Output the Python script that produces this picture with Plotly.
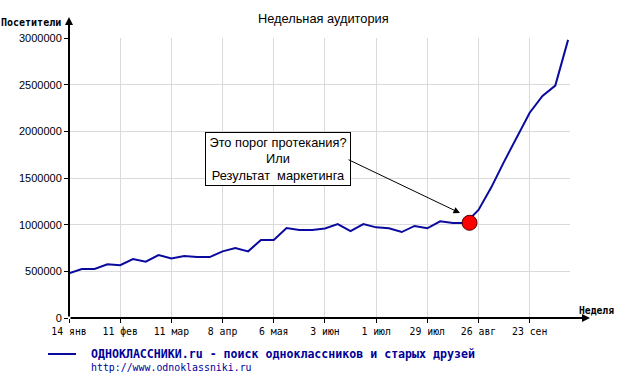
import plotly.graph_objects as go

# ---- data ----
weeks = list(range(40))
visitors = [480000, 525000, 525000, 575000, 565000, 632000, 603000, 675000, 639000, 664000,
            653000, 653000, 714000, 750000, 714000, 836000, 836000, 964000, 943000, 943000,
            960000, 1007000, 932000, 1007000, 971000, 961000, 921000, 986000, 961000, 1036000,
            1018000, 1018000, 1157000, 1400000, 1675000, 1940000, 2200000, 2380000, 2490000, 2980000]
tick_weeks = [0, 4, 8, 12, 16, 20, 24, 28, 32, 36]
tick_labels = ["14 янв", "11 фев", "11 мар", "8 апр", "6 мая", "3 июн", "1 июл", "29 июл", "26 авг", "23 сен"]
y_ticks = [0, 500000, 1000000, 1500000, 2000000, 2500000, 3000000]
highlight_week = [31.3]
highlight_value = [1020000]

title = "Недельная аудитория"
series_name = "ОДНОКЛАССНИКИ.ru - поиск одноклассников и старых друзей"
series_url = "http://www.odnoklassniki.ru"
note = "Это порог протекания?<br>Или<br>Результат\u00a0\u00a0маркетинга"

# ---- layout geometry (pixels) ----
L, R, T, B = 69, 570, 38, 318
W, H = 624, 381
def px(x):
    return (x - L) / (R - L)
def py(y):
    return (B - y) / (B - T)

line_color = "#0a0a9e"
text_blue = "#000099"

fig = go.Figure()
fig.add_trace(go.Scatter(x=weeks, y=visitors, mode="lines",
                         line=dict(color=line_color, width=2), showlegend=False,
                         hoverinfo="skip"))
fig.add_trace(go.Scatter(x=highlight_week, y=highlight_value, mode="markers",
                         marker=dict(size=15, color="#ff0000", line=dict(color="#500000", width=1)),
                         showlegend=False, hoverinfo="skip"))

annotations = []
# title
annotations.append(dict(text=title, xref="paper", yref="paper", x=px(323.5), y=py(18),
                        showarrow=False, xanchor="center", yanchor="middle",
                        font=dict(family="Liberation Sans", size=12.8, color="#000")))
# axis titles
annotations.append(dict(text="<b>Посетители</b>", xref="paper", yref="paper", x=px(63), y=py(23),
                        showarrow=False, xanchor="right", yanchor="middle",
                        font=dict(family="DejaVu Sans Mono", size=10, color="#000")))
annotations.append(dict(text="<b>Неделя</b>", xref="paper", yref="paper", x=px(616), y=py(310),
                        showarrow=False, xanchor="right", yanchor="middle",
                        font=dict(family="DejaVu Sans Mono", size=9.7, color="#000")))
# axis arrows
annotations.append(dict(text="", xref="paper", yref="paper", x=px(69), y=py(17),
                        ax=0, ay=301, axref="pixel", ayref="pixel", showarrow=True,
                        arrowhead=2, arrowsize=0.8, arrowwidth=2, arrowcolor="#000"))
annotations.append(dict(text="", xref="paper", yref="paper", x=px(590), y=py(318),
                        ax=-521, ay=0, axref="pixel", ayref="pixel", showarrow=True,
                        arrowhead=2, arrowsize=0.8, arrowwidth=2, arrowcolor="#000"))
# note box
annotations.append(dict(text=note, xref="paper", yref="paper", x=px(277.5), y=py(159),
                        showarrow=False, xanchor="center", yanchor="middle",
                        width=140, height=48, align="center", valign="middle",
                        bgcolor="#ffffff", bordercolor="#000", borderwidth=1, borderpad=2,
                        font=dict(family="Liberation Sans", size=12.8, color="#000")))
# note arrow
annotations.append(dict(text="", xref="paper", yref="paper", x=px(460), y=py(213),
                        ax=347 - 460, ay=159 - 213, axref="pixel", ayref="pixel", showarrow=True,
                        arrowhead=2, arrowsize=1.3, arrowwidth=1, arrowcolor="#000"))
# legend texts
annotations.append(dict(text="<b>" + series_name + "</b>", xref="paper", yref="paper",
                        x=px(89), y=py(354), showarrow=False, xanchor="left", yanchor="middle",
                        font=dict(family="DejaVu Sans Mono", size=11.6, color=text_blue)))
annotations.append(dict(text=series_url, xref="paper", yref="paper",
                        x=px(89), y=py(367), showarrow=False, xanchor="left", yanchor="middle",
                        font=dict(family="DejaVu Sans Mono", size=9.9, color=text_blue)))

shapes = [dict(type="line", xref="paper", yref="paper", x0=px(48), x1=px(76), y0=py(354), y1=py(354),
               line=dict(color=line_color, width=2))]

fig.update_layout(
    width=W, height=H,
    margin=dict(l=L, r=W - R, t=T, b=H - B, pad=0),
    paper_bgcolor="#ffffff", plot_bgcolor="#ffffff",
    showlegend=False,
    annotations=annotations, shapes=shapes,
    xaxis=dict(range=[0, 39.15], tickmode="array", tickvals=tick_weeks, ticktext=tick_labels,
               showgrid=True, gridcolor="#dadada", gridwidth=1, zeroline=False, showline=False,
               ticks="outside", ticklen=4, tickwidth=1, tickcolor="#000",
               tickfont=dict(family="DejaVu Sans Mono", size=9.8, color="#000"), fixedrange=True),
    yaxis=dict(range=[0, 3000000], tickmode="array", tickvals=y_ticks,
               ticktext=[str(v) for v in y_ticks],
               showgrid=True, gridcolor="#dadada", gridwidth=1, zeroline=False, showline=False,
               ticks="outside", ticklen=4, tickwidth=1, tickcolor="#000",
               tickfont=dict(family="Liberation Sans", size=11, color="#000"), fixedrange=True),
)

fig.write_html("out.html", config=dict(displayModeBar=False),
               post_script="document.body.style.margin='0';document.body.style.overflow='hidden';")
